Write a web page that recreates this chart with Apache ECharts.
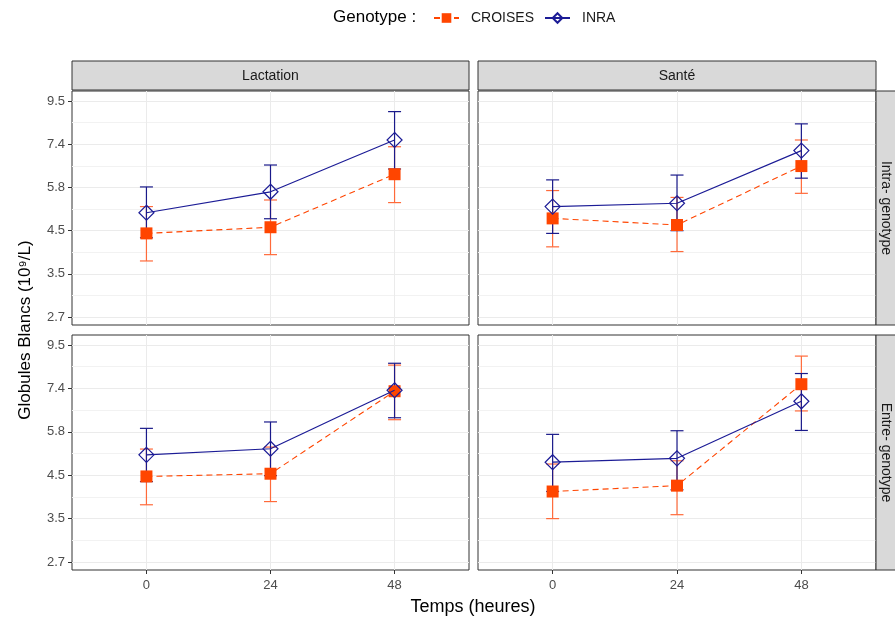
<!DOCTYPE html>
<html><head><meta charset="utf-8">
<script src="https://cdn.jsdelivr.net/npm/echarts@6/dist/echarts.min.js"></script>
<style>html,body{margin:0;padding:0;background:#fff}#c{width:895px;height:619px}</style>
</head><body><div id="c"></div>
<script>
// ---- data ----
const times = [0, 24, 48];
const colLabels = ['Lactation', 'Santé'];
const rowLabels = ['Intra- genotype', 'Entre- genotype'];
// panels order: Lactation/Intra, Santé/Intra, Lactation/Entre, Santé/Entre
const croisesMean = [[4.41, 4.57, 6.21], [4.81, 4.63, 6.51], [4.45, 4.52, 7.27], [4.08, 4.22, 7.57]];
const croisesLow  = [[3.76, 3.90, 5.27], [4.08, 3.97, 5.56], [3.78, 3.85, 6.17], [3.49, 3.57, 6.49]];
const croisesHigh = [[5.15, 5.35, 7.28], [5.65, 5.43, 7.57], [5.21, 5.27, 8.45], [4.78, 4.87, 8.90]];
const inraMean = [[4.97, 5.61, 7.57], [5.15, 5.25, 7.12], [5.04, 5.22, 7.31], [4.83, 4.94, 6.86]];
const inraLow  = [[4.30, 4.80, 6.40], [4.41, 4.48, 6.07], [4.32, 4.47, 6.24], [4.08, 4.12, 5.80]];
const inraHigh = [[5.77, 6.55, 8.92], [6.01, 6.18, 8.31], [5.87, 6.09, 8.54], [5.67, 5.79, 8.05]];
const yTicks = [2.7183, 3.4903, 4.4817, 5.7546, 7.3891, 9.4877];
const yMinorTicks = [3.0802, 3.9551, 5.0784, 6.5208, 8.3729];
const xTickLabels = ['0', '24', '48'];

// ---- layout ----
const FONT = 'Liberation Sans, Arial, sans-serif';
const grids = [
  {left: 72, top: 91, width: 397, height: 234},
  {left: 478, top: 91, width: 398, height: 234},
  {left: 72, top: 335, width: 397, height: 235},
  {left: 478, top: 335, width: 398, height: 235}
];
const ORANGE = '#FF4500', ORANGE_BAR = '#FF6A3A', BLUE = '#1C1C96', BLUE_BAR = '#1A1A8A';

const xAxes = [], yAxes = [], series = [];
grids.forEach((g, i) => {
  g.show = true; g.borderColor = '#333333'; g.borderWidth = 1; g.backgroundColor = '#fff';
  const bottom = i >= 2;
  xAxes.push({
    gridIndex: i, type: 'value', min: -14.4, max: 62.4,
    axisLine: {show: false, onZero: false},
    axisTick: {show: bottom, length: 4, lineStyle: {color: '#333'}, customValues: times},
    axisLabel: {show: bottom, customValues: times, color: '#4D4D4D', fontSize: 13, fontFamily: FONT, margin: 9,
      formatter: v => xTickLabels[times.indexOf(v)] ?? String(v)},
    splitLine: {show: true, lineStyle: {color: '#EBEBEB', width: 1}}
  });
});
grids.forEach((g, i) => {
  const left = i % 2 === 0;
  yAxes.push({
    gridIndex: i, type: 'log', logBase: Math.E, min: 2.596, max: 10.05,
    axisLine: {show: false, onZero: false},
    axisTick: {show: left, length: 4, lineStyle: {color: '#333'}, customValues: yTicks},
    axisLabel: {show: left, customValues: yTicks, color: '#4D4D4D', fontSize: 13, fontFamily: FONT, margin: 7,
      formatter: v => Number(v).toFixed(1)},
    splitLine: {show: true, lineStyle: {color: '#EBEBEB', width: 1}}
  });
});
grids.forEach((g, i) => {
  yAxes.push({
    gridIndex: i, type: 'log', logBase: Math.E, min: 2.596, max: 10.05, position: 'right',
    axisLine: {show: false, onZero: false},
    axisTick: {show: false, customValues: yMinorTicks},
    axisLabel: {show: false, customValues: yMinorTicks},
    splitLine: {show: true, lineStyle: {color: '#F2F2F2', width: 1}}
  });
});

function errorBar(color) {
  return function (params, api) {
    const x = api.value(0);
    const lo = api.coord([x, api.value(1)]);
    const hi = api.coord([x, api.value(2)]);
    const hw = 6.5;
    const style = {stroke: color, lineWidth: 1.2};
    return {type: 'group', children: [
      {type: 'line', shape: {x1: lo[0], y1: lo[1], x2: hi[0], y2: hi[1]}, style},
      {type: 'line', shape: {x1: lo[0] - hw, y1: lo[1], x2: lo[0] + hw, y2: lo[1]}, style},
      {type: 'line', shape: {x1: hi[0] - hw, y1: hi[1], x2: hi[0] + hw, y2: hi[1]}, style}
    ]};
  };
}

for (let p = 0; p < 4; p++) {
  series.push({
    type: 'custom', name: 'errC' + p, xAxisIndex: p, yAxisIndex: p, z: 2,
    renderItem: errorBar(ORANGE_BAR), encode: {x: 0, y: [1, 2]},
    data: times.map((t, j) => [t, croisesLow[p][j], croisesHigh[p][j]]), silent: true
  });
  series.push({
    type: 'custom', name: 'errI' + p, xAxisIndex: p, yAxisIndex: p, z: 3,
    renderItem: errorBar(BLUE_BAR), encode: {x: 0, y: [1, 2]},
    data: times.map((t, j) => [t, inraLow[p][j], inraHigh[p][j]]), silent: true
  });
  series.push({
    type: 'line', name: 'CROISES', xAxisIndex: p, yAxisIndex: p, z: 4,
    data: times.map((t, j) => [t, croisesMean[p][j]]),
    symbol: 'rect', symbolSize: 12, showAllSymbol: true,
    itemStyle: {color: ORANGE},
    lineStyle: {color: ORANGE, width: 1.1, type: [6, 4]}, animation: false
  });
  series.push({
    type: 'line', name: 'INRA', xAxisIndex: p, yAxisIndex: p, z: 5,
    data: times.map((t, j) => [t, inraMean[p][j]]),
    symbol: 'diamond', symbolSize: 15, showAllSymbol: true,
    itemStyle: {color: 'rgba(255,255,255,0)', borderColor: BLUE, borderWidth: 1.2},
    lineStyle: {color: BLUE, width: 1.2}, animation: false
  });
}

const graphics = [];
// top strips
[0, 1].forEach(c => {
  const g = grids[c];
  graphics.push({type: 'rect', shape: {x: g.left, y: 61, width: g.width, height: 29},
    style: {fill: '#D9D9D9', stroke: '#333333', lineWidth: 1}, z: 10});
  graphics.push({type: 'text', x: g.left + g.width / 2, y: 76,
    style: {text: colLabels[c], fill: '#1A1A1A', font: '14px ' + FONT, textAlign: 'center', textVerticalAlign: 'middle'}, z: 11});
});
// right strips
[0, 1].forEach(r => {
  const g = grids[r * 2 + 1];
  graphics.push({type: 'rect', shape: {x: g.left + g.width, y: g.top, width: 30, height: g.height},
    style: {fill: '#D9D9D9', stroke: '#333333', lineWidth: 1}, z: 10});
  graphics.push({type: 'text', x: g.left + g.width + 10, y: g.top + g.height / 2, rotation: -Math.PI / 2,
    style: {text: rowLabels[r], fill: '#1A1A1A', font: '14px ' + FONT, textAlign: 'center', textVerticalAlign: 'middle'}, z: 11});
});
graphics.push({type: 'text', x: 25, y: 330, rotation: Math.PI / 2,
  style: {text: 'Globules Blancs (10⁹/L)', fill: '#000', font: '17px ' + FONT, textAlign: 'center', textVerticalAlign: 'middle'}});
graphics.push({type: 'text', x: 473, y: 607,
  style: {text: 'Temps (heures)', fill: '#000', font: '18px ' + FONT, textAlign: 'center', textVerticalAlign: 'middle'}});
graphics.push({type: 'text', x: 333, y: 17,
  style: {text: 'Genotype :', fill: '#000', font: '17px ' + FONT, textAlign: 'left', textVerticalAlign: 'middle'}});

const chart = echarts.init(document.getElementById('c'), null, {renderer: 'canvas'});
chart.setOption({
  animation: false,
  backgroundColor: '#fff',
  grid: grids,
  xAxis: xAxes,
  yAxis: yAxes,
  legend: {data: ['CROISES', 'INRA'], left: 433, top: 11, padding: 0, itemWidth: 25, itemHeight: 12, itemGap: 10,
    textStyle: {fontSize: 14, color: '#1A1A1A', fontFamily: FONT, padding: [0, 0, 0, 7]}, selectedMode: false},
  graphic: graphics,
  series: series
});
</script></body></html>
